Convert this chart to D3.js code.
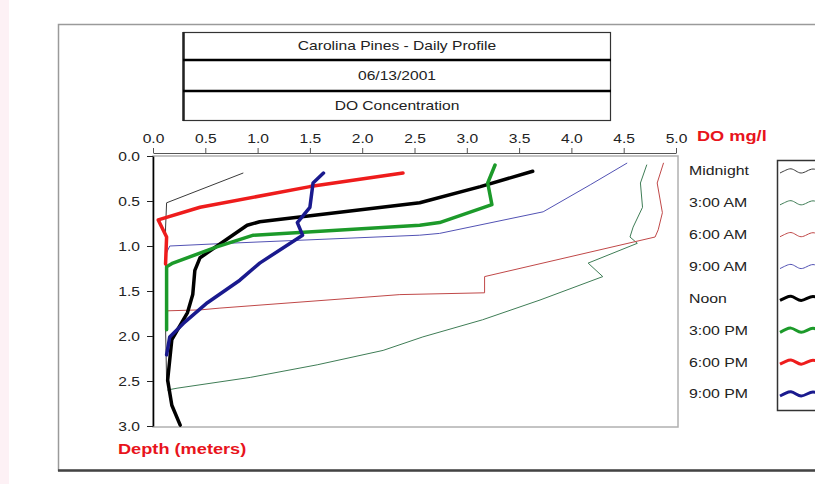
<!DOCTYPE html>
<html>
<head>
    <script src="https://d3js.org/d3.v7.min.js" charset="utf-8"></script>
    <title>Carolina Pines - Daily Profile</title>
    <style type="text/css">
        body {
            margin: 0;
            background: #fff;
        }
        text {
            font-family: "Liberation Sans", Arial, sans-serif;
        }
    </style>
</head>
<body>
<div id="chart"></div>
<script>

// values: [DO mg/l, depth m]
var xTicks = [0, 0.5, 1, 1.5, 2, 2.5, 3, 3.5, 4, 4.5, 5];
var yTicks = [0, 0.5, 1, 1.5, 2, 2.5, 3];
var titleLines = ["Carolina Pines - Daily Profile", "06/13/2001", "DO Concentration"];
var legendNames = ["Midnight", "3:00 AM", "6:00 AM", "9:00 AM", "Noon", "3:00 PM", "6:00 PM", "9:00 PM"];

var midnight = [[0.86, 0.19], [0.13, 0.52], [0.12, 0.8], [0.12, 1.3], [0.12, 1.9], [0.13, 2.5]];
var threeAM  = [[4.72, 0.10], [4.66, 0.30], [4.68, 0.57], [4.59, 0.79], [4.56, 0.90], [4.63, 0.97],
                [4.16, 1.19], [4.30, 1.34], [3.70, 1.60], [3.15, 1.82], [2.58, 2.01], [2.20, 2.16],
                [1.57, 2.32], [0.93, 2.46], [0.23, 2.58], [0.14, 2.60]];
var sixAM    = [[4.88, 0.08], [4.82, 0.30], [4.87, 0.63], [4.83, 0.82], [4.80, 0.90], [3.17, 1.34],
                [3.17, 1.52], [2.36, 1.54], [0.64, 1.69], [0.45, 1.71], [0.14, 1.72], [0.13, 1.9]];
var nineAM   = [[4.53, 0.08], [4.18, 0.32], [3.73, 0.62], [2.74, 0.86], [2.55, 0.88], [0.71, 0.97],
                [0.16, 1.00], [0.12, 1.10]];
var noon     = [[3.63, 0.17], [3.13, 0.34], [2.55, 0.52], [1.02, 0.73], [0.90, 0.77], [0.45, 1.13],
                [0.40, 1.27], [0.38, 1.54], [0.33, 1.74], [0.18, 2.04], [0.14, 2.49], [0.18, 2.77],
                [0.26, 2.99]];
var threePM  = [[3.27, 0.10], [3.20, 0.30], [3.24, 0.54], [2.74, 0.74], [2.55, 0.77], [0.96, 0.88],
                [0.61, 1.01], [0.19, 1.19], [0.13, 1.23], [0.13, 1.93]];
var sixPM    = [[2.39, 0.19], [1.50, 0.34], [0.45, 0.57], [0.05, 0.71], [0.13, 0.90], [0.12, 1.20]];
var ninePM   = [[1.63, 0.19], [1.53, 0.30], [1.50, 0.57], [1.38, 0.74], [1.43, 0.88], [1.02, 1.19],
                [0.83, 1.38], [0.52, 1.63], [0.29, 1.86], [0.16, 2.01], [0.13, 2.21]];

var allSeries = [midnight, threeAM, sixAM, nineAM, noon, threePM, sixPM, ninePM];
var seriesColors = ["#3a3a3a", "#3f7d56", "#c04848", "#5252b4", "#000000", "#1c9a2a", "#ee1c1c", "#1a1a8e"];
var seriesWidths = [1, 1, 1, 1, 3.5, 3.5, 3.5, 3.5];

var fontStack = '"Liberation Sans", Arial, sans-serif';

var svg = d3.select("#chart").append("svg")
        .attr("width", 815)
        .attr("height", 484);

// the old screenshot text looks stretched sideways
function stretch(sel, k) {
    sel.each(function () {
        var x0 = +d3.select(this).attr("x") || 0;
        d3.select(this).attr("transform", "translate(" + (x0 * (1 - k)) + ",0) scale(" + k + ",1)");
    });
}

// faint pink strip at the left edge
svg.append("rect").attr("x", 0).attr("y", 0).attr("width", 9).attr("height", 484).attr("fill", "#fdf1f5");

// outer frame
svg.append("rect")
        .attr("x", 58.5).attr("y", 24.5)
        .attr("width", 800).attr("height", 446)
        .attr("fill", "#fff")
        .attr("stroke", "#9a9a9a")
        .attr("stroke-width", 1.5);
svg.append("line")
        .attr("x1", 58).attr("x2", 815)
        .attr("y1", 470.5).attr("y2", 470.5)
        .attr("stroke", "#444")
        .attr("stroke-width", 2.5);

// title boxes
var titleBox = svg.append("g");
titleBox.append("rect")
        .attr("x", 183.5).attr("y", 32.5)
        .attr("width", 427).attr("height", 88)
        .attr("fill", "#fff")
        .attr("stroke", "#333")
        .attr("stroke-width", 1.2);
titleBox.append("line")
        .attr("x1", 183.5).attr("x2", 183.5).attr("y1", 32).attr("y2", 121)
        .attr("stroke", "#222").attr("stroke-width", 2.5);
[60, 91].forEach(function (yy) {
    titleBox.append("line")
            .attr("x1", 183).attr("x2", 611)
            .attr("y1", yy).attr("y2", yy)
            .attr("stroke", "#000")
            .attr("stroke-width", 2.5);
});
var titleY = d3.scalePoint().domain(titleLines).range([45.5, 105.5]);
titleBox.selectAll("text.title")
        .data(titleLines)
        .enter().append("text")
        .attr("class", "title")
        .attr("x", 397)
        .attr("y", function (d) { return titleY(d) + 4.5; })
        .attr("text-anchor", "middle")
        .attr("font-size", 13)
        .attr("fill", "#222")
        .text(function (d) { return d; })
        .call(stretch, 1.2);

// scales
var x = d3.scaleLinear().domain([0, 5]).range([153, 676]);
var y = d3.scaleLinear().domain([0, 3]).range([156, 426]);

// plot area
svg.append("rect")
        .attr("x", 153).attr("y", 156)
        .attr("width", 525).attr("height", 271)
        .attr("fill", "#fff")
        .attr("stroke", "#b0b0b0")
        .attr("stroke-width", 1.5);

// top axis
var gx = svg.append("g")
        .attr("transform", "translate(0,153)")
        .call(d3.axisTop(x).tickValues(xTicks).tickFormat(d3.format(".1f")).tickSize(5).tickSizeOuter(0).tickPadding(5))
        .attr("font-family", fontStack)
        .attr("font-size", 13);
gx.select(".domain").attr("stroke", "#555");
gx.selectAll(".tick line").attr("stroke", "#555");
gx.selectAll("text").attr("fill", "#222").call(stretch, 1.2);

// left axis
var gy = svg.append("g")
        .attr("transform", "translate(153,0)")
        .call(d3.axisLeft(y).tickValues(yTicks).tickFormat(d3.format(".1f")).tickSize(6).tickSizeOuter(0).tickPadding(7))
        .attr("font-family", fontStack)
        .attr("font-size", 13);
gy.select(".domain").attr("stroke", "#000").attr("stroke-width", 1.6);
gy.selectAll(".tick line").attr("stroke", "#222");
gy.selectAll("text").attr("fill", "#222").call(stretch, 1.2);

// axis titles
svg.append("text")
        .attr("x", 697).attr("y", 141)
        .attr("font-size", 14)
        .attr("font-weight", "bold")
        .attr("fill", "#e8141c")
        .text("DO mg/l")
        .call(stretch, 1.3);
svg.append("text")
        .attr("x", 118).attr("y", 454)
        .attr("font-size", 14)
        .attr("font-weight", "bold")
        .attr("fill", "#e8141c")
        .text("Depth (meters)")
        .call(stretch, 1.3);

// profiles
var line = d3.line()
        .x(function (d) { return x(d[0]); })
        .y(function (d) { return y(d[1]); });

svg.append("g").selectAll("path")
        .data(allSeries)
        .enter().append("path")
        .attr("d", line)
        .attr("fill", "none")
        .attr("stroke", function (d, i) { return seriesColors[i]; })
        .attr("stroke-width", function (d, i) { return seriesWidths[i]; })
        .attr("stroke-linejoin", "round")
        .attr("stroke-linecap", "round");

// legend
var legendY = d3.scalePoint().domain(legendNames).range([171, 394]);

svg.append("rect")
        .attr("x", 777.5).attr("y", 160.5)
        .attr("width", 60).attr("height", 250)
        .attr("fill", "#fff")
        .attr("stroke", "#333")
        .attr("stroke-width", 1.5);

svg.append("g").selectAll("text")
        .data(legendNames)
        .enter().append("text")
        .attr("x", 689)
        .attr("y", function (d) { return legendY(d) + 4.5; })
        .attr("font-size", 13)
        .attr("fill", "#222")
        .text(function (d) { return d; })
        .call(stretch, 1.22);

var wave = [[0, 2], [6, -1], [11, -3], [16, 0], [21, 3], [27, 0], [33, -3], [39, 0]];
var waveLine = d3.line().curve(d3.curveBasis);

svg.append("g").selectAll("path")
        .data(legendNames)
        .enter().append("path")
        .attr("d", function (d) {
            return waveLine(wave.map(function (p) { return [780 + p[0], legendY(d) + p[1]]; }));
        })
        .attr("fill", "none")
        .attr("stroke", function (d, i) { return seriesColors[i]; })
        .attr("stroke-width", function (d, i) { return seriesWidths[i] > 2 ? 3 : 1; });

</script>
</body>
</html>
